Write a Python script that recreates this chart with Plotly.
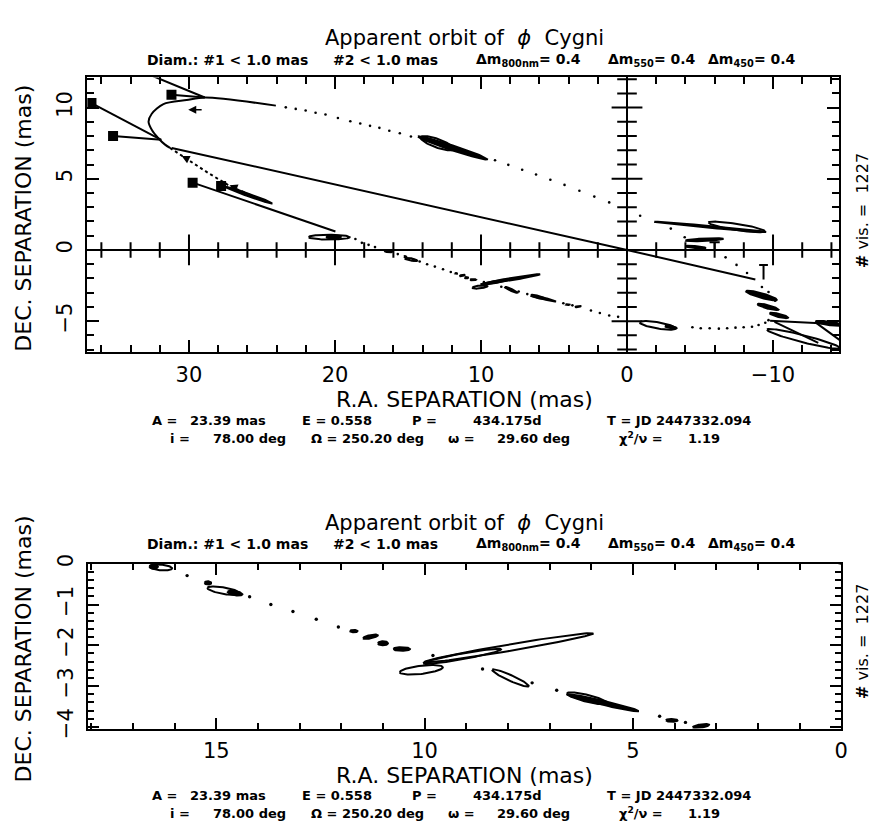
import numpy as np
import plotly.graph_objects as go

W, H = 877, 828

# ---------------- data (mas) ----------------
# dense (apastron) part of the apparent orbit, drawn solid
ORB_SOLID_X = [24.05, 28.92, 30.16, 31.75, 32.55, 32.77, 32.54, 32.10, 31.64, 31.30]
ORB_SOLID_Y = [10.14, 10.71, 10.53, 10.25, 9.57, 9.00, 8.42, 7.85, 7.40, 7.17]
# closely spaced part, drawn as a dotted line
ORB_DOTLINE_X = [31.30, 30.39, 29.48, 28.58, 27.90, 27.22, 26.31, 25.40, 24.50]
ORB_DOTLINE_Y = [7.17, 6.55, 5.91, 5.34, 4.93, 4.50, 4.09, 3.68, 3.29]
# individual orbit dots
ORB_DOT_X = [23.37, 22.69, 22.01, 21.33, 20.65, 19.80, 18.95, 18.27, 17.60, 16.96, 16.28, 15.56, 14.80,
             9.04, 8.13, 7.18, 6.23, 5.25, 4.28, 3.26, 2.24, 1.22, -0.90, -3.00, -3.95,
             -6.75, -7.50, -8.22, -9.24, -9.69, -10.14,
             -9.69, -9.47, -9.01, -8.56, -7.99, -7.43, -6.86, -6.29, -5.66, -5.05, -4.48,
             0.61, 1.22, 1.86, 2.47, 3.74, 4.36, 6.83, 7.42, 8.61, 9.80,
             12.07, 12.60, 13.16, 13.69, 14.20, 15.70, 17.26, 17.70, 18.16, 18.60]
ORB_DOT_Y = [10.02, 9.91, 9.80, 9.64, 9.52, 9.27, 9.04, 8.88, 8.72, 8.58, 8.38, 8.20, 7.97,
             6.30, 5.98, 5.64, 5.30, 4.93, 4.57, 4.16, 3.75, 3.34, 2.40, 1.50, 0.89,
             -0.52, -1.05, -1.62, -2.60, -2.95, -3.56,
             -4.93, -5.11, -5.27, -5.39, -5.43, -5.46, -5.50, -5.53, -5.50, -5.50, -5.43,
             -4.70, -4.60, -4.43, -4.25, -3.89, -3.74, -3.10, -2.92, -2.58, -2.25,
             -1.55, -1.36, -1.17, -1.00, -0.81, -0.29, 0.20, 0.36, 0.50, 0.77]

# measured positions (squares)
SQ_X = [36.68, 35.20, 31.20, 29.75, 27.80]
SQ_Y = [10.32, 8.00, 10.90, 4.73, 4.50]

# solid residual / node lines (polylines)
LINES = {
    "nodes": ([31.18, 0.0, -8.79], [7.17, 0.0, -2.08]),
    "sqA": ([36.68, 31.90], [10.32, 7.74]),
    "sqB": ([35.20, 31.90], [8.00, 7.74]),
    "sqD": ([31.20, 28.92], [10.90, 10.71]),
    "top": ([33.50, 28.92], [12.65, 10.71]),
    "sqE": ([29.75, 19.97], [4.73, 1.30]),
    "barT20": ([20.0, 20.0], [0.0, 1.10]),
    "T1": ([-9.35, -9.35, -9.05, -9.65], [-2.08, -1.05, -1.05, -1.05]),
    "T2": ([-6.0, -6.0, -5.65, -6.35], [0.0, 0.55, 0.55, 0.55]),
    "c1": ([-9.80, -14.60], [-4.98, -5.22]),
    "c2": ([-10.10, -13.10], [-5.05, -6.53]),
    "c3": ([-12.86, -14.60], [-5.05, -6.35]),
}

# error ellipses: centre, semi-axes (mas), position angle in data frame (deg)
ELL_CX = [25.90, 20.40, 20.10, 11.95, 13.00, 16.33, 16.50, 14.82, 14.55, 15.20,
          11.70, 11.30, 11.00, 10.55, 7.98, 9.10, 10.08, 7.94, 6.10, 5.72, 4.07, 3.37,
          -2.10, -3.00, -5.70, -7.50, -5.30, -4.70, -9.20, -9.65, -10.40, -12.10, -13.80]
ELL_CY = [3.85, 0.90, 0.92, 7.17, 7.50, -0.09, -0.07, -0.66, -0.72, -0.47,
          -1.65, -1.79, -1.95, -2.09, -2.06, -2.27, -2.60, -2.80, -3.30, -3.41, -3.84, -3.98,
          -5.30, -5.42, 1.62, 1.62, 0.72, 0.20, -3.20, -4.00, -4.60, -6.25, -5.15]
ELL_A = [1.70, 1.40, 0.50, 2.50, 1.20, 0.27, 0.10, 0.40, 0.18, 0.08,
         0.09, 0.18, 0.12, 0.20, 2.06, 0.95, 0.52, 0.48, 0.50, 0.88, 0.14, 0.20,
         1.25, 0.40, 3.85, 1.95, 1.30, 0.70, 1.10, 0.75, 0.65, 2.60, 0.90]
ELL_B = [0.09, 0.17, 0.12, 0.17, 0.30, 0.07, 0.05, 0.08, 0.05, 0.04,
         0.03, 0.04, 0.05, 0.045, 0.08, 0.07, 0.10, 0.07, 0.085, 0.05, 0.035, 0.04,
         0.22, 0.08, 0.06, 0.22, 0.09, 0.07, 0.16, 0.12, 0.11, 0.25, 0.12]
ELL_ANG = [20, 0, 0, 18.6, 20, 5, 0, 10, 10, 0,
           0, -12, 0, 0, -9.9, -10.5, -7, 24.7, 14, 13.4, 0, -10,
           10, 10, 5.4, 9, -3, 5, 16, 15, 14, 14.6, 8]
ELL_FILLED = [1, 0, 1, 1, 0, 0, 1, 0, 1, 1,
              1, 1, 1, 1, 0, 0, 0, 0, 0, 1, 1, 1,
              0, 1, 0, 0, 1, 1, 1, 1, 1, 0, 1]

# arrows (head, tail)
ARROWS = [((30.05, 9.85), (29.03, 9.85)),
          ((30.50, 6.60), (30.05, 6.37)),
          ((27.22, 4.54), (26.77, 4.36))]

TOP_X_RANGE = [36.96, -14.54]
TOP_Y_RANGE = [-7.19, 12.12]
BOT_X_RANGE = [18.07, 0.0]
BOT_Y_RANGE = [-4.04, 0.0]

TOP_XMAJOR = [30, 20, 10, -10]
TOP_XMINOR = [v for v in range(-14, 37, 2) if v % 10 != 0]
TOP_YMAJOR = [10, 5, -5]
TOP_YMINOR = [v for v in range(-7, 13) if v % 5 != 0]

TITLE = "Apparent orbit of \u00a0<i>\u03d5</i>\u00a0 Cygni"
SUB_PARTS = ["Diam.: #1 < 1.0 mas", "#2 < 1.0 mas", "\u0394m<sub>800nm</sub>= 0.4",
             "\u0394m<sub>550</sub>= 0.4", "\u0394m<sub>450</sub>= 0.4"]
SUB_X = [221, 381, 525, 649, 750]
PAR1_PARTS = ["A =", "23.39 mas", "E = 0.558", "P =", "434.175d", "T = JD 2447332.094"]
PAR1_X = [158, 222, 332, 420, 504, 676]
PAR2_PARTS = ["i =", "78.00 deg", "\u03a9 = 250.20 deg", "\u03c9 =", "29.60 deg",
              "\u03c7<sup>2</sup>/\u03bd =", "1.19"]
PAR2_X = [173, 243, 362, 457, 530, 638, 702]
XTITLE = "R.A. SEPARATION (mas)"
YTITLE = "DEC. SEPARATION (mas)"
NVIS = "<b>#</b> vis. = \u00a01227"

# ---------------- figure ----------------
fig = go.Figure()
K = "black"


def ellipse_xy(cx, cy, a, b, ang):
    t = np.linspace(0, 2 * np.pi, 90)
    th = np.radians(ang)
    x = cx + a * np.cos(th) * np.cos(t) - b * np.sin(th) * np.sin(t)
    y = cy + a * np.sin(th) * np.cos(t) + b * np.cos(th) * np.sin(t)
    return x, y


for xa, ya, dsize, lw in (("x", "y", 2.6, 2.0), ("x2", "y2", 3.4, 2.0)):
    fig.add_trace(go.Scatter(x=ORB_SOLID_X, y=ORB_SOLID_Y, mode="lines",
                             line=dict(color=K, width=2, shape="spline", smoothing=0.8),
                             xaxis=xa, yaxis=ya, hoverinfo="skip"))
    fig.add_trace(go.Scatter(x=ORB_DOTLINE_X, y=ORB_DOTLINE_Y, mode="lines",
                             line=dict(color=K, width=2, dash="dot"),
                             xaxis=xa, yaxis=ya, hoverinfo="skip"))
    fig.add_trace(go.Scatter(x=ORB_DOT_X, y=ORB_DOT_Y, mode="markers",
                             marker=dict(color=K, size=dsize, line=dict(width=0)),
                             xaxis=xa, yaxis=ya, hoverinfo="skip"))
    for name, (lx, ly) in LINES.items():
        fig.add_trace(go.Scatter(x=lx, y=ly, mode="lines", line=dict(color=K, width=lw),
                                 xaxis=xa, yaxis=ya, hoverinfo="skip"))
    for cx, cy, a, b, ang, f in zip(ELL_CX, ELL_CY, ELL_A, ELL_B, ELL_ANG, ELL_FILLED):
        ex, ey = ellipse_xy(cx, cy, a, b, ang)
        fig.add_trace(go.Scatter(x=ex, y=ey, mode="lines", line=dict(color=K, width=2),
                                 fill="toself" if f else None, fillcolor=K,
                                 xaxis=xa, yaxis=ya, hoverinfo="skip"))
    fig.add_trace(go.Scatter(x=SQ_X, y=SQ_Y, mode="markers",
                             marker=dict(symbol="square", color=K, size=10),
                             xaxis=xa, yaxis=ya, hoverinfo="skip"))

# ticks on the internal axes of the upper panel
fig.add_trace(go.Scatter(x=TOP_XMAJOR, y=[0] * len(TOP_XMAJOR), mode="markers",
                         marker=dict(symbol="line-ns", size=22, line=dict(color=K, width=2)),
                         xaxis="x", yaxis="y", hoverinfo="skip"))
fig.add_trace(go.Scatter(x=TOP_XMINOR, y=[0] * len(TOP_XMINOR), mode="markers",
                         marker=dict(symbol="line-ns", size=11, line=dict(color=K, width=2)),
                         xaxis="x", yaxis="y", hoverinfo="skip"))
fig.add_trace(go.Scatter(x=[0] * len(TOP_YMAJOR), y=TOP_YMAJOR, mode="markers",
                         marker=dict(symbol="line-ew", size=22, line=dict(color=K, width=2)),
                         xaxis="x", yaxis="y", hoverinfo="skip"))
fig.add_trace(go.Scatter(x=[0] * len(TOP_YMINOR), y=TOP_YMINOR, mode="markers",
                         marker=dict(symbol="line-ew", size=14, line=dict(color=K, width=2)),
                         xaxis="x", yaxis="y", hoverinfo="skip"))

anns = []
for (hx, hy), (tx, ty) in ARROWS:
    anns.append(dict(x=hx, y=hy, ax=tx, ay=ty, xref="x", yref="y", axref="x", ayref="y",
                     showarrow=True, arrowhead=2, arrowsize=1.0, arrowwidth=1.6,
                     arrowcolor=K, text=" ", font=dict(size=1)))

TICKFONT = dict(family="DejaVu Sans", size=21, color=K)


def axis_common():
    return dict(showline=True, linewidth=2, linecolor=K, mirror="ticks", ticks="inside",
                tickwidth=2, tickcolor=K, showgrid=False, tickfont=TICKFONT)


fig.update_layout(
    width=W, height=H, margin=dict(l=0, r=0, t=0, b=0),
    paper_bgcolor="white", plot_bgcolor="white", showlegend=False,
    xaxis=dict(domain=[80 / W, 838 / W], range=TOP_X_RANGE, anchor="y", tick0=0, dtick=10,
               ticklen=12, minor=dict(dtick=2, ticklen=7, ticks="inside", tickwidth=1.5, tickcolor=K),
               zeroline=True, zerolinewidth=2, zerolinecolor=K, ticklabelstandoff=2,
               **axis_common()),
    yaxis=dict(domain=[1 - 343 / H, 1 - 61 / H], range=TOP_Y_RANGE, anchor="x", tick0=0, dtick=5,
               ticklen=12, minor=dict(dtick=1, ticklen=7, ticks="inside", tickwidth=1.5, tickcolor=K),
               zeroline=True, zerolinewidth=2, zerolinecolor=K, tickangle=-90,
               ticklabelstandoff=5, **axis_common()),
    xaxis2=dict(domain=[81 / W, 840 / W], range=BOT_X_RANGE, anchor="y2", tick0=0, dtick=5,
                ticklen=11, minor=dict(dtick=1, ticklen=6, ticks="inside", tickwidth=1.5, tickcolor=K),
                zeroline=False, ticklabelstandoff=2, **axis_common()),
    yaxis2=dict(domain=[1 - 729 / H, 1 - 560 / H], range=BOT_Y_RANGE, anchor="x2", tick0=0, dtick=1,
                ticklen=11, minor=dict(dtick=0.2, ticklen=6, ticks="inside", tickwidth=1.5, tickcolor=K),
                zeroline=False, tickangle=-90, ticklabelstandoff=5, **axis_common()),
)


def txt(text, px, py, size, bold=False, angle=0, family="DejaVu Sans"):
    return dict(text=f"<b>{text}</b>" if bold else text, x=px / W, y=1 - py / H,
                xref="paper", yref="paper", showarrow=False, textangle=angle,
                xanchor="center", yanchor="middle",
                font=dict(family=family, size=size, color=K))


PANELS = [  # title y, subtitle y, x-title y, param rows y, vis y, y-title y
    dict(t=21, s=43, xt=391, p1=413, p2=431, v=198, yt=205),
    dict(t=518, s=540, xt=777, p1=798, p2=816, v=640, yt=647),
]
for P in PANELS:
    anns.append(txt(TITLE, 460, P["t"], 21))
    for s, sx in zip(SUB_PARTS, SUB_X):
        anns.append(txt(s, sx, P["s"], 14, bold=True))
    anns.append(txt(XTITLE, 460, P["xt"], 22))
    for s, sx in zip(PAR1_PARTS, PAR1_X):
        anns.append(txt(s, sx, P["p1"], 13, bold=True))
    for s, sx in zip(PAR2_PARTS, PAR2_X):
        anns.append(txt(s, sx, P["p2"], 13, bold=True))
    anns.append(txt(NVIS, 862, P["v"], 16, angle=-90))
    anns.append(txt(YTITLE, 16, P["yt"], 22, angle=-90))

fig.update_layout(annotations=anns)
fig.write_html("out.html")
